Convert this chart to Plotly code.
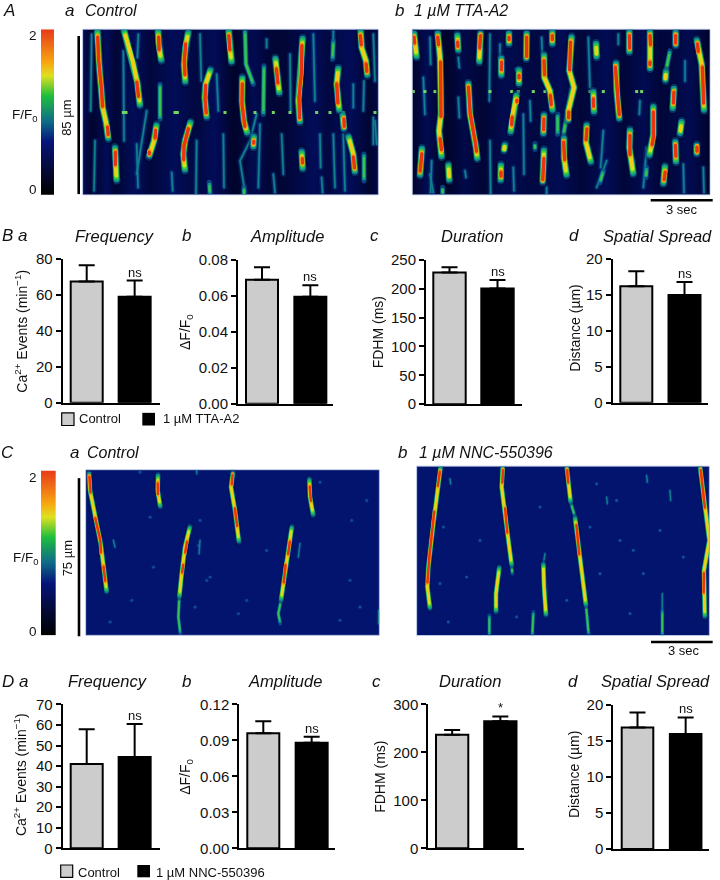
import plotly.graph_objects as go

# ---------------- bar data ----------------
bar_names = ["Control", "Drug"]
B_freq = [67.5, 59.0];   B_freq_top = [76.5, 68.0];   B_freq_ticks = [0, 20, 40, 60, 80]
B_amp = [0.069, 0.0595]; B_amp_top = [0.076, 0.066];  B_amp_ticks = [0, 0.02, 0.04, 0.06, 0.08]
B_dur = [228, 200];      B_dur_top = [237, 215];      B_dur_ticks = [0, 50, 100, 150, 200, 250]
B_spr = [16.2, 15.0];    B_spr_top = [18.3, 16.8];    B_spr_ticks = [0, 5, 10, 15, 20]
D_freq = [41, 44.5];     D_freq_top = [58, 60.5];     D_freq_ticks = [0, 10, 20, 30, 40, 50, 60, 70]
D_amp = [0.096, 0.088];  D_amp_top = [0.106, 0.093];  D_amp_ticks = [0, 0.03, 0.06, 0.09, 0.12]
D_dur = [237, 265];      D_dur_top = [247, 275];      D_dur_ticks = [0, 100, 200, 300]
D_spr = [16.9, 16.0];    D_spr_top = [19.0, 18.3];    D_spr_ticks = [0, 5, 10, 15, 20]

# ---------------- line-scan data (image units) ----------------
Aa_bg_x = [248, 275, 320, 345, 400, 450, 520, 590, 640, 700, 760, 800, 850, 880, 940, 980, 1050, 1110, 1135]
Aa_bg_v = [0.7, 0.25, 0.8, 0.35, 0.8, 0.45, 0.8, 0.5, 0.8, 0.2, 0.7, 0.4, 0.35, 0.5, 0.8, 0.5, 0.8, 0.3, 0.6]
Ab_bg_x = [67, 110, 170, 220, 280, 340, 430, 510, 570, 650, 700, 760, 810, 900, 960]
Ab_bg_v = [0.25, 0.7, 0.2, 0.6, 0.35, 0.7, 0.5, 0.75, 0.4, 0.75, 0.4, 0.7, 0.4, 0.7, 0.2]

Aa_hot = [
 [(292,88),(293,130),(298,200),(304,270),(308,320),(318,365),(325,415)],
 [(372,88),(382,125),(398,180),(412,245),(420,315)],
 [(474,88),(476,130),(484,180)],
 [(565,92),(556,140),(552,190),(556,245)],
 [(632,205),(617,250),(614,290),(620,350)],
 [(686,88),(688,130),(695,185)],
 [(727,228),(726,300),(732,360),(742,398)],
 [(908,110),(905,170),(902,240),(895,300),(900,365)],
 [(826,170),(832,220),(838,278)],
 [(1082,88),(1085,140),(1098,180),(1102,225)],
 [(1015,200),(1010,250),(1018,330)],
 [(1028,340),(1032,385)],
 [(1045,405),(1060,460),(1065,515)],
 [(345,438),(346,490),(350,540)],
 [(470,370),(462,420),(447,468)],
 [(572,362),(555,420),(550,460),(555,510)],
 [(762,405),(760,440)],
 [(905,450),(908,505)],
]
Aa_core = [
 [(293,105),(296,180),(304,260),(308,320)], [(322,375),(325,405)], [(410,240),(416,290)], [(476,105),(477,150)],
 [(557,125),(553,180),(555,225)], [(617,250),(615,295),(619,340)], [(686,100),(690,150)],
 [(727,245),(726,310),(735,380)], [(906,130),(904,220),(897,290),(899,355)], [(829,200),(834,250)],
 [(1081,100),(1084,135)], [(1098,185),(1101,215)], [(1010,245),(1014,310)], [(1032,350),(1033,380)],
 [(1060,465),(1064,505)], [(346,450),(346,495)], [(467,385),(465,415)], [(448,450),(448,462)],
 [(566,380),(552,435),(551,480)], [(762,418),(761,430)], [(907,470),(908,490)],
]
Aa_mid = [
 [(792,195),(790,340)], [(1000,120),(998,175)], [(735,88),(738,190),(760,250)], [(1092,460),(1092,540)],
 [(480,250),(480,355)], [(628,545),(630,580)], [(732,560),(732,582)], [(402,180),(412,240)],
]
Aa_faint = [
 [(370,150),(372,420)], [(285,420),(282,570)], [(415,100),(412,170)], [(600,100),(604,240)], [(590,420),(588,580)],
 [(650,220),(655,330)], [(940,100),(945,300)], [(1000,90),(1000,120)], [(1060,250),(1060,320)], [(1120,100),(1125,240)],
 [(1125,360),(1130,430)], [(965,530),(968,575)], [(820,520),(825,575)], [(515,515),(518,570)], [(410,430),(414,560)],
 [(670,400),(672,560)], [(780,370),(775,560)], [(870,160),(872,330)], [(960,400),(962,500)], [(1000,400),(1005,560)],
 [(1030,400),(1035,570)], [(845,400),(850,520)], [(770,340),(750,420),(720,480),(735,575)], [(800,115),(800,140)],
 [(275,100),(272,330)], [(440,330),(410,520)], [(1120,350),(1120,430)], [(1092,240),(1090,330)],
]
Aa_dots_x = [370, 378, 525, 532, 675, 765, 790, 820, 870, 950, 990, 1030, 1125]
Aa_dots_y = [335] * len(Aa_dots_x)

Ab_hot = [
 [(72,95),(80,170)],
 [(143,95),(150,170),(152,260),(153,340),(147,390),(155,470)],
 [(202,100),(205,150)],
 [(272,95),(268,140),(268,185)],
 [(357,95),(357,130)],
 [(410,95),(409,175)],
 [(487,90),(487,130)],
 [(545,105),(538,210),(552,260),(535,330),(535,360)],
 [(462,160),(463,230),(480,270),(488,330)],
 [(334,170),(334,225)],
 [(387,205),(387,250)],
 [(235,245),(240,340),(258,440),(262,475)],
 [(380,280),(365,355),(362,395)],
 [(462,340),(460,400)],
 [(678,185),(680,270),(688,355)],
 [(610,270),(612,335)],
 [(718,90),(718,155)],
 [(780,90),(782,150),(780,205)],
 [(857,92),(857,135)],
 [(920,115),(935,190),(942,330)],
 [(828,210),(826,240)],
 [(852,260),(848,325)],
 [(618,125),(620,170)],
 [(96,440),(90,525)],
 [(175,490),(178,540)],
 [(333,490),(332,540)],
 [(345,430),(342,450)],
 [(462,445),(458,545)],
 [(522,410),(522,470),(530,525)],
 [(590,370),(588,425),(603,485)],
 [(720,385),(718,440),(730,520)],
 [(790,315),(790,400),(778,465)],
 [(875,360),(870,400)],
 [(856,420),(858,485)],
 [(920,430),(920,460)],
 [(825,495),(820,550)],
]
Ab_core = [
 [(72,105),(74,130)], [(143,105),(146,135)], [(152,180),(153,350)], [(150,410),(155,450)], [(203,120),(204,140)],
 [(272,100),(269,145)], [(357,105),(357,120)], [(410,105),(410,170)], [(487,100),(487,120)], [(542,120),(539,210)],
 [(536,330),(536,355)], [(462,175),(464,225)], [(481,280),(484,315)], [(335,180),(334,210)], [(387,220),(387,235)],
 [(235,255),(241,340),(257,430),(260,455)], [(381,295),(381,305)], [(367,345),(365,375)], [(462,350),(461,390)],
 [(676,195),(682,280),(688,345)], [(610,290),(611,320)], [(718,100),(719,145)], [(780,100),(782,135)], [(780,180),(780,195)],
 [(857,100),(857,130)], [(922,125),(925,155)], [(937,195),(941,310)], [(852,270),(850,310)], [(96,455),(90,515)],
 [(333,510),(333,530)], [(462,470),(458,540)], [(521,420),(524,480)], [(591,380),(588,420)], [(720,400),(720,465)],
 [(790,330),(790,410),(786,435)], [(856,430),(858,470)], [(921,435),(921,455)], [(826,510),(822,540)],
]
Ab_mid = [
 [(435,428),(435,445)], [(503,340),(503,400)], [(640,510),(630,545)], [(770,500),(768,530)], [(728,480),(728,520)],
 [(158,560),(158,580)], [(840,150),(828,210)], [(545,260),(520,405)], [(380,205),(387,205)],
]
Ab_faint = [
 [(100,230),(105,340)], [(300,100),(298,300)], [(120,110),(122,190)], [(205,290),(208,350)], [(125,480),(122,575)],
 [(300,420),(302,580)], [(400,340),(402,520)], [(595,110),(600,260)], [(640,390),(632,500)], [(885,180),(885,240)],
 [(750,300),(748,340)], [(420,300),(422,360)], [(880,490),(882,575)], [(225,510),(228,530)], [(205,170),(208,200)],
 [(455,110),(457,160)], [(685,100),(685,130)], [(940,500),(942,575)], [(330,130),(330,170)], [(650,480),(620,560)],
 [(120,520),(130,575)], [(370,500),(372,570)], [(470,560),(470,580)], [(770,440),(760,560)],
]
Ab_dots_x = [70, 105, 135, 300, 365, 385, 430, 465, 550, 600, 640, 740, 755]
Ab_dots_y = [272] * len(Ab_dots_x)

Ca_hot = [
 [(267,97),(270,150),(290,250),(302,310),(312,390),(320,455)],
 [(474,102),(473,150),(481,200)],
 [(699,95),(693,140),(705,210),(717,305)],
 [(928,115),(930,170),(940,225)],
 [(570,258),(555,320),(545,400),(538,470)],
 [(876,258),(866,320),(855,400),(843,480)],
]
Ca_core = [
 [(268,105),(272,160)], [(285,230),(301,300),(303,340)], [(310,375),(316,425)], [(473,125),(474,165)], [(698,100),(695,135)],
 [(704,200),(712,260)], [(929,135),(933,185)], [(562,300),(555,340)], [(550,370),(546,400)], [(870,300),(864,345)],
 [(857,370),(851,430)],
]
Ca_mid = [[(538,470),(535,530),(541,580)], [(843,480),(835,520),(841,550)]]
Ca_faint = [[(1136,510),(1136,550)], [(590,90),(590,100)], [(600,300),(597,340)], [(900,310),(895,350)], [(340,300),(345,320)]]
Ca_specks_x = [450, 600, 595, 585, 395, 330, 715, 1020, 1055, 460, 960, 1050, 620, 630, 800, 1100, 1080, 420, 740]
Ca_specks_y = [230, 240, 315, 500, 480, 545, 520, 540, 240, 380, 125, 420, 420, 410, 330, 180, 500, 95, 480]

Cb_hot = [
 [(122,78),(112,150),(100,250),(85,380),(82,440),(90,505)],
 [(308,78),(305,140),(320,260),(335,375)],
 [(500,78),(512,185)],
 [(525,230),(538,340),(558,495)],
 [(900,78),(915,190),(928,300),(912,390),(912,480),(915,530)],
 [(298,380),(288,460),(288,515)],
 [(430,370),(432,440),(438,525)],
]
Cb_core = [
 [(120,90),(113,140)], [(103,210),(88,350),(82,430)], [(309,85),(307,130)], [(315,200),(322,280)], [(501,85),(505,130)],
 [(529,250),(538,345)], [(902,85),(915,205)], [(912,395),(911,460)],
]
Cb_mid = [[(558,495),(566,582)], [(512,185),(525,230)], [(268,525),(268,585)], [(787,510),(787,585)], [(400,515),(397,585)], [(335,375),(337,400)]]
Cb_faint = [[(435,340),(430,370)], [(787,460),(787,510)], [(620,170),(622,190)], [(810,150),(812,180)], [(740,105),(742,125)], [(150,115),(152,130)]]
Cb_specks_x = [660, 570, 700, 130, 200, 145, 600, 780, 690, 420, 240, 350, 590, 730, 650, 850, 120, 500]
Cb_specks_y = [300, 260, 330, 260, 410, 545, 400, 270, 520, 200, 300, 530, 130, 400, 180, 350, 430, 480]

cbar_levels = [0, 0.25, 0.5, 0.75, 1.0, 1.25, 1.5, 1.75, 2.0]
cscale = [[0, "#000000"], [0.16, "#040a38"], [0.32, "#05147a"], [0.45, "#0f6e88"], [0.6, "#1fbf3c"],
          [0.72, "#dfe020"], [0.8, "#f8a812"], [1, "#e83c18"]]

W, H = 720, 880
TOP, AREA = 8, 864      # the rendered plot area was found to sit 8 px inside the page, top and bottom
FONT = "Liberation Sans"
fig = go.Figure()
axis_no = 0
annots, shapes = [], []


def py(y):
    return 1 - (y - TOP) / AREA


def new_axes(x0, x1, y0, y1, xa, ya):
    global axis_no
    axis_no += 1
    s = "" if axis_no == 1 else str(axis_no)
    fig.layout["xaxis" + s] = dict(domain=[x0 / W, x1 / W], anchor="y" + s, **xa)
    fig.layout["yaxis" + s] = dict(domain=[py(y1), py(y0)], anchor="x" + s, **ya)
    return "x" + s, "y" + s


def text(x, y, s, size=14, italic=False, anchor="left", angle=0):
    if anchor == "left":
        x -= 1.5
    annots.append(dict(x=x / W, y=py(y), xref="paper", yref="paper", text=s, showarrow=False, textangle=angle,
                       xanchor=anchor, yanchor="middle", align=anchor,
                       font=dict(family=FONT, size=size, color="#111", style="italic" if italic else "normal")))


def rect(x0, y0, x1, y1, fill, line=None, lw=0):
    shapes.append(dict(type="rect", xref="paper", yref="paper", x0=x0 / W, x1=x1 / W, y0=py(y0), y1=py(y1),
                       fillcolor=fill, line=dict(color=line or fill, width=lw)))


def trim(seg, d):
    """Shorten a polyline at both ends so inner colour bands stop before the tip."""
    out = list(seg)
    for end, nxt in ((0, 1), (-1, -2)):
        a, b = out[end], out[nxt]
        L = ((a[0] - b[0]) ** 2 + (a[1] - b[1]) ** 2) ** 0.5
        f = min(d / L, 0.4) if L else 0
        out[end] = (a[0] + (b[0] - a[0]) * f, a[1] + (b[1] - a[1]) * f)
    return out


def collect(segs):
    xs, ys = [], []
    for seg in segs:
        xs += [p[0] for p in seg] + [None]
        ys += [p[1] for p in seg] + [None]
    return xs, ys


def layer(segs, xa, ya, color, width, opacity=1.0, cut=0):
    xs, ys = collect([trim(s, cut) for s in segs] if cut else segs)
    fig.add_trace(go.Scatter(x=xs, y=ys, xaxis=xa, yaxis=ya, mode="lines", opacity=opacity, hoverinfo="skip",
                             showlegend=False, line=dict(color=color, width=width)))


def linescan(box, rng, bg_x, bg_v, bg_cols, hot, core, mid, faint, dots=None, specks=None, k=1.0):
    hide = dict(visible=False)
    xa, ya = new_axes(box[0], box[1], box[2], box[3], dict(range=[rng[0], rng[1]], **hide),
                      dict(range=[rng[3], rng[2]], **hide))
    fig.add_trace(go.Heatmap(x=bg_x, y=[rng[2], rng[3]], z=[bg_v, bg_v], xaxis=xa, yaxis=ya, zmin=0, zmax=1, zsmooth="best",
                             colorscale=[[0, bg_cols[0]], [1, bg_cols[1]]], showscale=False, hoverinfo="skip"))
    if specks:
        fig.add_trace(go.Scatter(x=specks[0], y=specks[1], xaxis=xa, yaxis=ya, mode="markers", hoverinfo="skip", showlegend=False,
                                 marker=dict(color="#1468b0", size=3.2, opacity=0.7)))
    layer(faint, xa, ya, "#0a3c90", 5.5 * k, 0.35)
    layer(faint, xa, ya, "#0e6c98", 3 * k, 0.5)
    layer(faint, xa, ya, "#169a8c", 1.6 * k, 0.7)
    if dots:
        fig.add_trace(go.Scatter(x=dots[0], y=dots[1], xaxis=xa, yaxis=ya, mode="markers", hoverinfo="skip", showlegend=False,
                                 marker=dict(color="#78e060", size=3, symbol="square", opacity=0.95)))
    layer(mid, xa, ya, "#0c5f96", 5.2 * k, 0.7)
    layer(mid, xa, ya, "#149a88", 3.6 * k, 1, 6)
    layer(mid, xa, ya, "#38c248", 2.2 * k, 1, 12)
    layer(hot, xa, ya, "#000010", 10 * k, 0.25)
    layer(hot, xa, ya, "#0a5a92", 7.6 * k, 0.5)
    layer(hot, xa, ya, "#0f8a90", 6.2 * k, 1, 4)
    layer(hot, xa, ya, "#20b464", 5.4 * k, 1, 8)
    layer(hot, xa, ya, "#50d030", 4.6 * k, 1, 12)
    layer(hot, xa, ya, "#d0e222", 3.8 * k, 1, 16)
    layer(hot, xa, ya, "#f4cc18", 2.8 * k, 1, 24)
    layer(core, xa, ya, "#f6a010", 4.2 * k)
    layer(core, xa, ya, "#e8340f", 3.4 * k, 1, 4)
    rect(box[0], box[2], box[1], box[3], "rgba(0,0,0,0)", "#9fb4dc", 0.7)


def colorbar(x0, x1, y0, y1):
    hide = dict(visible=False)
    xa, ya = new_axes(x0, x1, y0, y1, dict(range=[0, 1], **hide), dict(range=[0, 2], **hide))
    fig.add_trace(go.Heatmap(x=[0, 1], y=cbar_levels, z=[[v, v] for v in cbar_levels], xaxis=xa, yaxis=ya, zmin=0, zmax=2,
                             zsmooth="best", colorscale=cscale, showscale=False, hoverinfo="skip"))


def bars(ax_x, x_end, y_top, y_zero, left, right, vals, tops, ticks, fmt, mark):
    c1 = (left[0] + left[1]) / 2
    c2 = (right[0] + right[1]) / 2
    unit = c2 - c1
    r0, r1 = (ax_x - c1) / unit, (x_end - c1) / unit
    bw = (left[1] - left[0]) / unit
    xa, ya = new_axes(ax_x, x_end, y_top, y_zero,
                      dict(type="category", categoryorder="array", categoryarray=bar_names, range=[r0, r1], showline=True, linecolor="#000",
                           linewidth=2, ticks="", showticklabels=False, showgrid=False, zeroline=False),
                      dict(range=[0, ticks[-1]], tickvals=ticks, tickformat=fmt, showline=True, linecolor="#000", linewidth=2,
                           ticks="outside", ticklen=5, tickwidth=2, tickcolor="#000", showgrid=False, zeroline=False,
                           tickfont=dict(family=FONT, size=15, color="#111")))
    err = [t - v for t, v in zip(tops, vals)]
    fig.add_trace(go.Bar(x=bar_names, y=vals, width=bw, xaxis=xa, yaxis=ya, showlegend=False, hoverinfo="skip", textposition="none",
                         marker=dict(color=["#cccccc", "#000000"], line=dict(color="#000", width=2)),
                         error_y=dict(type="data", symmetric=False, array=err, arrayminus=[0, 0], color="#000", thickness=2, width=8)))
    annots.append(dict(x=bar_names[1], y=tops[1], xref=xa, yref=ya, text=mark, showarrow=False, yanchor="bottom", yshift=-1,
                       font=dict(family=FONT, size=13, color="#111")))


# ------- line scans -------
navy = "#021068"
linescan((82.7, 378.3, 28.3, 194), (248, 1135, 85, 582), Aa_bg_x, Aa_bg_v, ("#00001a", navy), Aa_hot, Aa_core, Aa_mid, Aa_faint, (Aa_dots_x, Aa_dots_y))
linescan((412.3, 710, 28.3, 194), (67, 960, 85, 582), Ab_bg_x, Ab_bg_v, ("#00001a", navy), Ab_hot, Ab_core, Ab_mid, Ab_faint, (Ab_dots_x, Ab_dots_y))
linescan((85.7, 379.3, 469.3, 635), (257, 1138, 88, 585), [257, 1138], [1, 1], ("#00001a", "#03146e"), Ca_hot, Ca_core, Ca_mid, Ca_faint, None, (Ca_specks_x, Ca_specks_y), 0.72)
linescan((416.7, 709.3, 465.7, 635.3), (50, 928, 77, 586), [50, 928], [1, 1], ("#00001a", "#03146e"), Cb_hot, Cb_core, Cb_mid, Cb_faint, None, (Cb_specks_x, Cb_specks_y), 0.72)
colorbar(41, 54.3, 28.3, 194)
colorbar(41, 55.7, 470, 635)

# ------- bars -------
bars(62.7, 160, 258.3, 402.3, (70.7, 102.7), (118.3, 151), B_freq, B_freq_top, B_freq_ticks, "d", "ns")
bars(238, 333, 259.3, 403.3, (246, 278), (294, 326.7), B_amp, B_amp_top, B_amp_ticks, ".2f", "ns")
bars(426, 521.7, 259, 403.7, (433.3, 465.7), (481, 514), B_dur, B_dur_top, B_dur_ticks, "d", "ns")
bars(612.7, 708.3, 258.3, 402.3, (620.3, 652.3), (668.3, 700.7), B_spr, B_spr_top, B_spr_ticks, "d", "ns")
bars(62.7, 160, 704.3, 848.3, (70.7, 102.7), (118.3, 151), D_freq, D_freq_top, D_freq_ticks, "d", "ns")
bars(239.3, 335, 704.3, 848.3, (247.3, 279.3), (295.3, 328), D_amp, D_amp_top, D_amp_ticks, ".2f", "ns")
bars(428.3, 524, 704.3, 848.3, (436, 468.3), (484, 516.7), D_dur, D_dur_top, D_dur_ticks, "d", "*")
bars(613.3, 709.3, 705, 849, (621.7, 653.3), (669.3, 702), D_spr, D_spr_top, D_spr_ticks, "d", "ns")

# ------- scale bars and legends -------
rect(77.4, 35, 80, 193.3, "#000")
rect(77.7, 477.7, 80.3, 636, "#000")
rect(650.7, 198.3, 712.7, 200.6, "#000")
rect(651, 640.6, 712.7, 642.9, "#000")
rect(61.7, 412.3, 74, 425, "#cccccc", "#000", 1.2)
rect(142.3, 412.3, 155, 425, "#000")
rect(60.7, 865, 72.7, 877.3, "#cccccc", "#000", 1.2)
rect(137.3, 865, 150, 877.3, "#000")

# ------- text -------
text(2, 10, "A", 17, True); text(64, 10, "a", 17, True); text(84, 10, "Control", 16, True)
text(395, 10, "b", 17, True); text(413, 10, "1 µM TTA-A2", 16, True)
text(0, 452, "C", 17, True); text(69, 452, "a", 17, True); text(86, 452, "Control", 16, True)
text(397, 452, "b", 17, True); text(418, 452, "1 µM NNC-550396", 16, True)
text(1, 235, "B a", 17, True); text(181, 235, "b", 17, True); text(370, 235, "c", 17, True); text(568, 235, "d", 17, True)
text(1, 681, "D a", 17, True); text(181, 681, "b", 17, True); text(372, 681, "c", 17, True); text(567, 681, "d", 17, True)
for cx, cy, s in [(115, 235, "Frequency"), (287, 235, "Amplitude"), (472, 235, "Duration"), (657, 235, "Spatial Spread"),
                  (108, 681, "Frequency"), (285, 681, "Amplitude"), (470, 681, "Duration"), (655, 681, "Spatial Spread")]:
    text(cx, cy, s, 16.5, True, "center")
ca = "Ca<sup>2+</sup> Events (min<sup>−1</sup>)"
df = "ΔF/F<sub>0</sub>"
for x, y, s in [(21, 331, ca), (186.7, 331.7, df), (378, 331.7, "FDHM (ms)"), (575, 328, "Distance (µm)"),
                (20, 775, ca), (186, 776.7, df), (380, 776.7, "FDHM (ms)"), (574, 775, "Distance (µm)")]:
    text(x, y, s, 14, False, "center", -90)
text(78.7, 418, "Control", 13); text(162, 418, "1 µM TTA-A2", 13)
text(77.7, 872, "Control", 13); text(155, 872, "1 µM NNC-550396", 13)
text(33, 35, "2", 13.5, False, "center"); text(33, 189, "0", 13.5, False, "center"); text(11, 115, "F/F<sub>0</sub>", 13.5)
text(33, 477, "2", 13.5, False, "center"); text(33, 631, "0", 13.5, False, "center"); text(12, 558, "F/F<sub>0</sub>", 13.5)
text(67, 117, "85 µm", 13, False, "center", -90); text(67, 558, "75 µm", 13, False, "center", -90)
text(681.7, 209, "3 sec", 13, False, "center"); text(684, 650.7, "3 sec", 13, False, "center")

fig.update_layout(width=W, height=H, margin=dict(l=0, r=0, t=0, b=0), paper_bgcolor="white", plot_bgcolor="white",
                  showlegend=False, annotations=annots, shapes=shapes, barmode="overlay")

POST = """
document.documentElement.style.margin='0';
document.body.style.margin='0';
var g=document.querySelector('.plotly-graph-div');
g.style.position='absolute';g.style.left='0';g.style.top='0';
document.querySelectorAll('.js-line').forEach(function(p){p.style.strokeLinecap='round';});
var NS='http://www.w3.org/2000/svg';
var svg=document.querySelector('.main-svg');
var d=document.createElementNS(NS,'defs');
var f=document.createElementNS(NS,'filter');
f.setAttribute('id','soft');f.setAttribute('filterUnits','userSpaceOnUse');
f.setAttribute('x','-200');f.setAttribute('y','-200');f.setAttribute('width','1200');f.setAttribute('height','1400');
f.setAttribute('color-interpolation-filters','sRGB');
var b=document.createElementNS(NS,'feGaussianBlur');b.setAttribute('stdDeviation','0.65');f.appendChild(b);
d.appendChild(f);svg.insertBefore(d,svg.firstChild);
document.querySelectorAll('.scatterlayer .trace').forEach(function(t){t.setAttribute('filter','url(#soft)');t.style.filter='url(#soft)';});
"""
fig.write_html("out.html", config={"displayModeBar": False}, post_script=POST)
